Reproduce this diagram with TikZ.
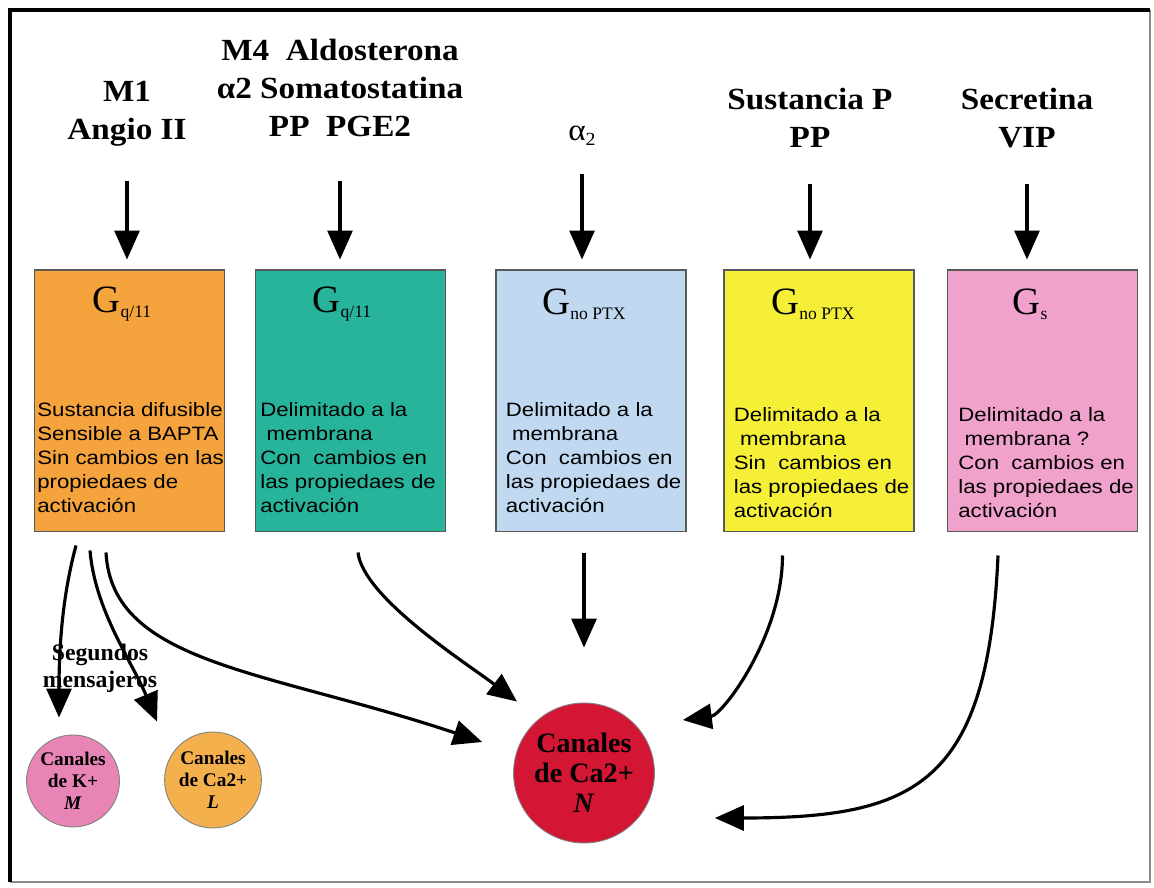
\documentclass[tikz,border=0pt]{standalone}
\usepackage{fontspec}
\setmainfont{Liberation Serif}
\newfontfamily\headfont[FakeStretch=1.08]{Liberation Serif}
\newfontfamily\bodyfont[FakeStretch=1.15]{Liberation Sans}
\usetikzlibrary{arrows.meta,positioning,calc,shapes.geometric}
\definecolor{gqorange}{RGB}{245,163,60}
\definecolor{gqteal}{RGB}{40,180,155}
\definecolor{gnoblue}{RGB}{192,216,240}
\definecolor{gnoyellow}{RGB}{245,240,55}
\definecolor{gspink}{RGB}{240,162,205}
\definecolor{kpink}{RGB}{232,132,182}
\definecolor{lorange}{RGB}{245,176,78}
\definecolor{nred}{RGB}{210,22,52}
\newcommand{\gsub}[1]{G\raisebox{-3pt}{\fontsize{10}{10}\selectfont #1}}
\tikzset{
  sourcelabel/.style={font=\headfont\bfseries\fontsize{17.5}{21.5}\selectfont,align=center,inner sep=0pt},
  gbox/.style={draw=black!65,line width=0.6pt,minimum width=3.8cm,minimum height=5.24cm,inner sep=0pt},
  glabel/.style={font=\fontsize{22}{24}\selectfont,inner sep=0pt},
  boxtext/.style={font=\bodyfont\fontsize{11}{13.6}\selectfont,align=left,inner sep=0pt,anchor=north west},
  channel/.style={ellipse,draw=black!50,line width=0.5pt,inner sep=0pt,align=center,
    font=\bfseries\fontsize{11}{12.5}\selectfont},
  flow/.style={-{Triangle[length=0.58cm,width=0.5cm]},line width=1.8pt},
  feed/.style={flow,shorten >=0.2cm}
}
\begin{document}
\begin{tikzpicture}[x=0.02cm,y=-0.02cm]
  \useasboundingbox (0,0) rectangle (1154,888);
  % frame
  \draw[black!45,line width=0.6pt] (1150,10) -- (1150,882) -- (10,882);
  \draw[line width=2.2pt] (10,882) -- (10,10) -- (1150,10);

  % ligands
  \node[sourcelabel] (h1) at (127,114) {M1\\Angio II};
  \node[sourcelabel] (h2) at (340,88) {M4~~Aldosterona\\α2 Somatostatina\\PP~~PGE2};
  \node[sourcelabel,font=\headfont\fontsize{17.5}{20}\selectfont] (h3) at (582,136) {α\raisebox{-3pt}{\fontsize{10.5}{10}\selectfont 2}};
  \node[sourcelabel] (h4) at (810,118) {Sustancia P\\PP};
  \node[sourcelabel] (h5) at (1027,118) {Secretina\\VIP};

  % G proteins
  \node[gbox,fill=gqorange] (g1) at (129.5,401) {};
  \node[gbox,fill=gqteal] (g2) at (350.5,401) {};
  \node[gbox,fill=gnoblue] (g3) at (591,401) {};
  \node[gbox,fill=gnoyellow] (g4) at (819,401) {};
  \node[gbox,fill=gspink] (g5) at (1042.5,401) {};

  \node[glabel] (l1) at (122,304) {\gsub{q/11}};
  \node[glabel] (l2) at (342,304) {\gsub{q/11}};
  \node[glabel] (l3) at (584,304) {\gsub{no PTX}};
  \node[glabel] (l4) at (813,304) {\gsub{no PTX}};
  \node[glabel] (l5) at (1030,304) {\gsub{s}};

  \node[boxtext] (t1) at ([shift={(3,133)}]g1.north west) {Sustancia difusible\\Sensible a BAPTA\\Sin cambios en las\\propiedaes de\\activación};
  \node[boxtext] (t2) at ([shift={(5,133)}]g2.north west) {Delimitado a la\\~membrana\\Con~ cambios en\\las propiedaes de\\activación};
  \node[boxtext] (t3) at ([shift={(10,133)}]g3.north west) {Delimitado a la\\~membrana\\Con~ cambios en\\las propiedaes de\\activación};
  \node[boxtext] (t4) at ([shift={(10,138)}]g4.north west) {Delimitado a la\\~membrana\\Sin~ cambios en\\las propiedaes de\\activación};
  \node[boxtext] (t5) at ([shift={(11,138)}]g5.north west) {Delimitado a la\\~membrana ?\\Con~ cambios en\\las propiedaes de\\activación};

  % channels
  \node[channel,fill=kpink,minimum width=1.86cm,minimum height=1.84cm] (k) at (73,781) {Canales\\de K+\\\textit{M}};
  \node[channel,fill=lorange,minimum width=1.84cm,minimum height=1.92cm] (o) at (213,780) {Canales\\de Ca2+\\\textit{L}};
  \node[channel,fill=nred,minimum width=2.7cm,minimum height=2.8cm,font=\bfseries\fontsize{16}{17}\selectfont] (n) at (584,773) {Canales\\de Ca2+\\\textit{N}};
  \node[font=\bfseries\fontsize{13.5}{15.4}\selectfont,align=center,inner sep=0pt] (sm) at (100,668) {Segundos\\mensajeros};

  % ligand -> G protein
  \draw[feed,shorten <=0.68cm] (h1.south) -- (h1.south |- g1.north);
  \draw[feed,shorten <=0.88cm] (h2.south) -- (h2.south |- g2.north);
  \draw[feed,shorten <=0.56cm] (h3.south) -- (h3.south |- g3.north);
  \draw[feed,shorten <=0.72cm] (h4.south) -- (h4.south |- g4.north);
  \draw[feed,shorten <=0.72cm] (h5.south) -- (h5.south |- g5.north);

  % G protein -> channels
  \draw[flow] ([shift={(42,13)}]g1.south west) .. controls +(-12,45) and +(0,-80) .. ([shift={(-14,-17)}]k.north);
  \draw[flow] ([shift={(56,18)}]g1.south west) .. controls +(5,60) and +(-25,-60) .. ([shift={(-56,-10)}]o.north);
  \draw[flow] ([shift={(72,20)}]g1.south west) .. controls +(6,112) and +(-215,-72) .. ([shift={(-31,-31)}]n.west);
  \draw[flow] ([shift={(103,20)}]g2.south west) .. controls +(5,45) and +(-50,-38) .. ([shift={(-67,-1)}]n.north);
  \draw[flow,shorten <=0.42cm,shorten >=1.1cm] (g3.south -| n.north) -- (n.north);
  \draw[flow] ([shift={(59,23)}]g4.south west) .. controls +(0,80) and +(40,-5) .. ([shift={(28,-53)}]n.east);
  \draw[flow] ([shift={(51,23)}]g5.south west) .. controls +(-10,230) and +(200,0) .. ([shift={(60,45)}]n.east);
\end{tikzpicture}
\end{document}
